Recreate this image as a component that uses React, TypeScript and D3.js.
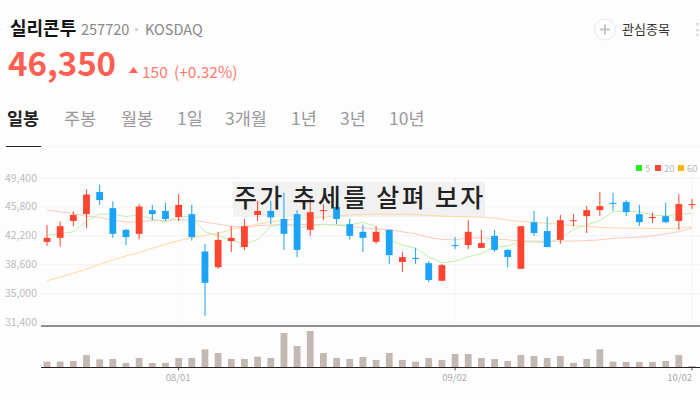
import React from "react";
import * as d3 from "d3";

const highs = [43550,44000,45250,48000,48550,46500,43050,46150,46050,46300,47400,46050,41200,42700,43400,44300,46550,46550,47550,45400,47050,46150,47050,44300,43550,43400,42950,40200,40700,39050,38700,42050,44150,42950,42950,40550,43400,45300,44550,44800,44900,45900,47650,47550,46650,46050,45050,46300,47400,46800];
const bodyTops = [41950,43400,44800,47350,47650,45650,42950,45850,45400,45300,46050,44900,40250,41700,41950,43400,45300,45300,44300,44900,45150,45400,45800,43650,42700,42700,42950,39550,39450,38800,38550,41050,42700,41300,42200,40450,43400,43900,42800,44150,44150,45400,45900,46300,46400,44900,44550,44650,46150,46150];
const bodyBottoms = [41450,41950,44050,44900,46650,42450,42050,42450,44900,44300,44550,42050,36350,38300,41550,40800,44800,44500,42450,40450,42950,45300,44300,42200,41950,41450,39800,38950,39350,36700,36600,40950,41050,40700,40450,39550,38100,42550,40800,41700,44100,44650,45400,46200,45150,43900,44400,43900,44050,46050];
const lows = [40950,40850,43400,43150,46050,41950,41050,41750,44150,44050,44050,41600,32200,38050,40200,40450,44050,43650,40450,39550,42200,44150,43650,41750,40200,41200,38700,37700,38700,36450,36600,40550,40550,40700,40200,38300,38100,42200,40800,41200,43400,42550,44650,45300,44650,43400,43800,43800,42950,45550];
const rising = [1,1,1,1,0,0,0,1,0,0,1,0,0,1,1,1,1,0,0,0,1,1,0,0,0,1,0,1,0,0,1,0,1,1,0,0,1,0,0,1,1,1,1,0,0,0,1,0,1,1];
const ma5 = [42300,42450,42700,44050,44900,44900,44600,44800,44300,43900,44600,44600,42700,42200,41700,41200,41750,43400,43650,43250,43400,43650,43550,43550,43900,43350,41700,41050,40650,39600,38850,39050,39600,40000,40750,40950,41450,41450,41350,41900,43000,43550,44100,45200,45300,45200,44800,44700,44900,45000];
const ma20 = [45400,45200,45000,44650,44500,44150,43900,43950,44100,44100,44200,44150,43900,43650,43400,43250,43450,43550,43650,43600,43600,43600,43550,43350,43200,43050,42950,42700,42450,42000,41750,41700,41950,41950,41800,41700,41550,41550,41500,41550,41550,41600,41700,41900,41950,42050,42200,42450,42700,43200];
const ma60 = [36600,37050,37550,38050,38650,39200,39700,40100,40650,41150,41600,41950,42250,42500,43000,43350,43650,43950,44150,44300,44400,44500,44650,44800,44850,44900,44900,44900,44850,44750,44650,44600,44600,44500,44400,44150,44000,43900,43750,43650,43450,43400,43250,43200,43150,43150,43100,43100,43150,43350];
const volumes = [85,85,95,185,120,125,65,140,65,65,140,140,270,215,125,125,160,140,515,320,545,215,140,125,155,110,215,110,85,140,110,200,200,140,125,95,185,170,140,170,65,125,270,85,80,80,80,95,185,20];
const priceTicks = [49400,45800,42200,38600,35000,31400];
const dateTicks = [{ i: 10, label: "08/01" }, { i: 31, label: "09/02" }, { i: 49, label: "10/02" }];
const tabs = [["일봉",7],["주봉",64],["월봉",121],["1일",177],["3개월",225],["1년",291],["3년",340],["10년",389]] as const;
const legend = [["5","#22ee22",636,645],["20","#ff4433",655,664],["60","#ffb400",678,687]] as const;

const FONT = "'Noto Sans CJK KR','Noto Sans',sans-serif";
const RED = "#ff4530";
const BLUE = "#1aa3f7";

export default function App() {
  const x = d3.scaleLinear().domain([0, 49]).range([47, 692]);
  const y = d3.scaleLinear().domain([31400, 49400]).range([322.6, 178]);
  const vy = d3.scaleLinear().domain([0, 620]).range([367.3, 326]);
  const line = d3.line<number>().x((_, i) => x(i)).y((d) => y(d));
  const fmt = d3.format(",");
  return (
    <svg width={700} height={400} style={{ position: "absolute", left: 0, top: 0, background: "#fdfdfd", fontFamily: FONT }}>
      <text x={10} y={35} fontSize={18} fontWeight={700} fill="#111">실리콘투</text>
      <text x={81} y={35} fontSize={14.5} fill="#888">257720</text>
      <circle cx={136.5} cy={29.5} r={1.6} fill="#ccc" />
      <text x={145} y={35} fontSize={14.5} fill="#888">KOSDAQ</text>
      <text x={8} y={76} fontSize={33} fontWeight={700} fill="#ff5f52">46,350</text>
      <path d="M129 73 L133.5 67 L138 73 Z" fill="#ff5f52" />
      <text x={142} y={78} fontSize={15.5} fill="#ff7a6b">150</text>
      <text x={174} y={78} fontSize={15.5} fill="#ff7a6b">(+0.32%)</text>
      {tabs.map(([t, tx], i) => (
        <text key={t} x={tx} y={125} fontSize={17.5} fontWeight={i === 0 ? 700 : 400} fill={i === 0 ? "#222" : "#999"}>{t}</text>
      ))}
      <rect x={41} y={146} width={659} height={1} fill="#f6f6f6" />
      <rect x={6} y={146} width={35} height={1} fill="#222" />
      <circle cx={605} cy={29.5} r={10.5} fill="#fdfdfd" stroke="#e8e8e8" strokeWidth={1} />
      <path d="M600 29.5 H610 M605 24.5 V34.5" stroke="#c4c4c4" strokeWidth={2} />
      <text x={622} y={34} fontSize={13} fill="#333">관심종목</text>
      {[24, 30, 35].map((cy) => <circle key={cy} cx={697.5} cy={cy} r={1.6} fill="#ddd" />)}

      {legend.map(([t, c, rx, tx]) => (
        <g key={t}>
          <rect x={rx} y={165} width={6} height={6} fill={c} />
          <text x={tx} y={172} fontSize={9.5} fill="#bbb">{t}</text>
        </g>
      ))}

      {priceTicks.map((p) => (
        <g key={p}>
          <line x1={41} x2={700} y1={y(p)} y2={y(p)} stroke="#f2f2f2" strokeWidth={1} />
          <text x={37} y={y(p) + 3.5} textAnchor="end" fontSize={10.5} fill="#bbb">{fmt(p)}</text>
        </g>
      ))}
      {dateTicks.map((d) => (
        <g key={d.label}>
          <line x1={x(d.i)} x2={x(d.i)} y1={178} y2={322.6} stroke={d.i === 10 ? "#f8f8f8" : "#f2f2f2"} />
          <line x1={x(d.i)} x2={x(d.i)} y1={367} y2={370.5} stroke="#555" />
          <text x={d.i === 49 ? x(d.i) : x(d.i) - 0.5} y={381} textAnchor={d.i === 49 ? "end" : "middle"} fontSize={9.5} fill="#aaa">{d.label}</text>
        </g>
      ))}

      <rect x={233} y={182} width={252} height={35} fill="#f1f1f1" />

      <path d={line(ma60) ?? ""} fill="none" stroke="#ffd9a0" strokeWidth={1} />
      <path d={line(ma20) ?? ""} fill="none" stroke="#ffc9c0" strokeWidth={1} />
      <path d={line(ma5) ?? ""} fill="none" stroke="#bdf0b0" strokeWidth={1} />

      {highs.map((h, i) => {
        const c = rising[i] ? RED : BLUE;
        const top = y(bodyTops[i]);
        const hgt = Math.max(1, y(bodyBottoms[i]) - top);
        return (
          <g key={i}>
            <line x1={x(i)} x2={x(i)} y1={y(h)} y2={y(lows[i])} stroke={c} strokeWidth={1} />
            <rect x={x(i) - 3.4} y={top} width={6.8} height={hgt} fill={c} />
          </g>
        );
      })}

      <rect x={41} y={325.5} width={659} height={1} fill="#2a2020" />
      {volumes.map((v, i) => (
        <rect key={i} x={x(i) - 3.4} y={vy(v)} width={6.8} height={vy(0) - vy(v)} fill="#c3b9b4" />
      ))}
      <rect x={41} y={367} width={659} height={1} fill="#2a2020" />

      <text x={234} y={206.5} fontSize={25} fontWeight={500} fill="#222" letterSpacing={2.3}>주가 추세를 살펴 보자</text>
    </svg>
  );
}
